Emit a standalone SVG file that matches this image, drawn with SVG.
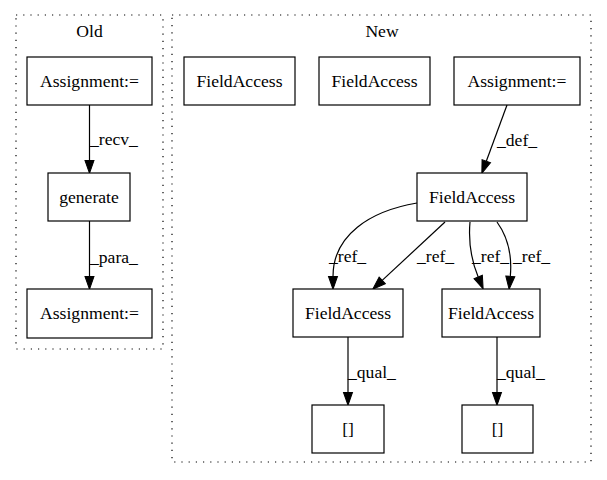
<svg xmlns="http://www.w3.org/2000/svg" width="607" height="480" viewBox="0 0 607 480">
<defs>
<style>
text{font-family:"Liberation Serif","Times New Roman",serif;font-size:17.6px;fill:#000}
.c{text-anchor:middle}
.cl{fill:none;stroke:#000;stroke-width:1.2;stroke-dasharray:1.2,6}
.n{fill:#fff;stroke:#000;stroke-width:1.2}
.e{fill:none;stroke:#000;stroke-width:1.2;marker-end:url(#a)}
</style>
<marker id="a" markerUnits="userSpaceOnUse" markerWidth="13" markerHeight="9" refX="0" refY="4.4" orient="auto" viewBox="0 0 12.6 8.8" overflow="visible">
<path d="M0,0 L12.6,4.4 L0,8.8 z" fill="#000" stroke="#000" stroke-width="1"/>
</marker>
</defs>
<rect width="607" height="480" fill="#fff"/>
<g id="cluster_old">
<rect class="cl" x="16" y="15" width="147" height="334"/>
<text class="c" x="89.5" y="37">Old</text>
</g>
<g id="cluster_new">
<rect class="cl" x="172" y="15" width="419" height="447"/>
<text class="c" x="382" y="37">New</text>
</g>
<g id="edges">
<path class="e" d="M89.5,105 L89.5,160.4"/>
<text x="90" y="145">_recv_</text>
<path class="e" d="M89.5,221 L89.5,276.4"/>
<text x="90" y="263">_para_</text>
<path class="e" d="M507,105 L486.3,161.2"/>
<text x="497" y="146">_def_</text>
<path class="e" d="M417,203 C370,211 333,235 333,276.4"/>
<text x="329" y="262">_ref_</text>
<path class="e" d="M445,222 L382.2,280.4"/>
<text x="417" y="262">_ref_</text>
<path class="e" d="M470,222 C468,245 472,262 478.2,277"/>
<text x="472" y="262">_ref_</text>
<path class="e" d="M497,222 C510,240 512,258 510.3,276.4"/>
<text x="513" y="262">_ref_</text>
<path class="e" d="M348,337 L348,392.4"/>
<text x="348" y="378">_qual_</text>
<path class="e" d="M497,337 L497,392.4"/>
<text x="497" y="378">_qual_</text>
</g>
<g id="old_assign1"><rect class="n" x="27" y="57" width="125" height="48"/><text class="c" x="89.5" y="87">Assignment:=</text></g>
<g id="old_generate"><rect class="n" x="48" y="173" width="82" height="48"/><text class="c" x="89" y="203">generate</text></g>
<g id="old_assign2"><rect class="n" x="27" y="289" width="125" height="49"/><text class="c" x="89.5" y="319">Assignment:=</text></g>
<g id="new_fa1"><rect class="n" x="184" y="57" width="111" height="48"/><text class="c" x="239.5" y="87">FieldAccess</text></g>
<g id="new_fa2"><rect class="n" x="319" y="57" width="111" height="48"/><text class="c" x="374.5" y="87">FieldAccess</text></g>
<g id="new_assign"><rect class="n" x="454" y="57" width="126" height="48"/><text class="c" x="517" y="87">Assignment:=</text></g>
<g id="new_fa_mid"><rect class="n" x="417" y="173" width="110" height="48"/><text class="c" x="472" y="203">FieldAccess</text></g>
<g id="new_fa_left"><rect class="n" x="293" y="289" width="110" height="48"/><text class="c" x="348" y="319">FieldAccess</text></g>
<g id="new_fa_right"><rect class="n" x="442" y="289" width="98" height="48"/><text class="c" x="491" y="319">FieldAccess</text></g>
<g id="new_idx_left"><rect class="n" x="312" y="405" width="72" height="48"/><text class="c" x="348" y="435">[]</text></g>
<g id="new_idx_right"><rect class="n" x="462" y="405" width="71" height="48"/><text class="c" x="497.5" y="435">[]</text></g>
</svg>
